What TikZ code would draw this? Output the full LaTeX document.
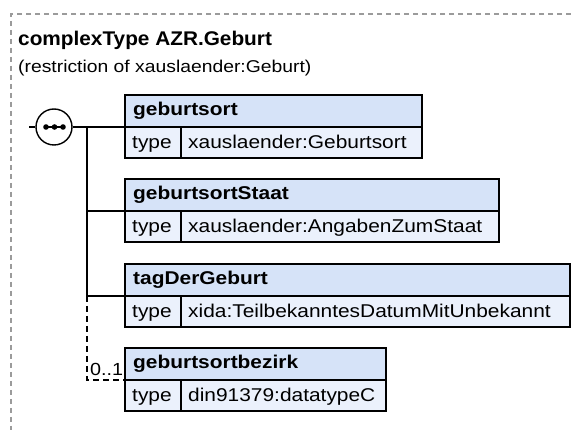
\documentclass[tikz,border=0pt]{standalone}
\usepackage{fontspec}
\setmainfont{Liberation Sans}[FakeStretch=1.13]
\newfontfamily\titlefont{Liberation Sans}[FakeStretch=1.05]
\definecolor{hdrc}{RGB}{214,227,248}
\definecolor{rowc}{RGB}{235,241,252}
\definecolor{dgray}{RGB}{155,155,155}
\tikzset{
 boxhdr/.style={draw=black, line width=1.4pt, fill=hdrc, anchor=north west, minimum height=32pt, inner sep=0pt, outer sep=0pt},
 boxrow/.style={draw=black, line width=1.4pt, fill=rowc, anchor=north west, minimum height=31pt, inner sep=0pt, outer sep=0pt},
 lbl/.style={anchor=base west, inner sep=0pt, font=\fontsize{18.5}{20}\selectfont},
 blbl/.style={anchor=base west, inner sep=0pt, font=\fontsize{18.5}{20}\selectfont\bfseries},
 conn/.style={line width=1.4pt},
 optconn/.style={line width=1.4pt, dash pattern=on 6pt off 4pt},
 seqnode/.style={circle, draw=black, line width=1.4pt, fill=white, minimum size=36pt, inner sep=0pt},
}
\begin{document}
\begin{tikzpicture}[x=1pt,y=-1pt]
\useasboundingbox (0,0) rectangle (571,430);
\fill[white] (0,0) rectangle (571,430);
% outer dashed frame
\draw[dgray, line width=1.2pt, dash pattern=on 5pt off 4pt] (571,14) -- (11,14) -- (11,430);
% titles
\node[anchor=base west, inner sep=0pt, font=\titlefont\fontsize{19.8}{21}\selectfont\bfseries] (title) at (18,45.5) {complexType AZR.Geburt};
\node[anchor=base west, inner sep=0pt, font=\fontsize{17.1}{18}\selectfont] (sub) at (18,73) {(restriction of xauslaender:Geburt)};
% box 1
\node[boxhdr, minimum width=297pt] (h1) at (125,95) {};
\node[boxrow, minimum width=56pt] (t1) at (125,127) {};
\node[boxrow, minimum width=241pt] (v1) at (181,127) {};
\node[blbl] (h1l) at (133,116) {geburtsort};
\node[lbl] (t1l) at (132,149) {type};
\node[lbl] (v1l) at (188,149) {xauslaender:Geburtsort};
% box 2
\node[boxhdr, minimum width=374pt] (h2) at (125,179) {};
\node[boxrow, minimum width=56pt] (t2) at (125,211) {};
\node[boxrow, minimum width=318pt] (v2) at (181,211) {};
\node[blbl] (h2l) at (133,200) {geburtsortStaat};
\node[lbl] (t2l) at (132,233) {type};
\node[lbl] (v2l) at (188,233) {xauslaender:AngabenZumStaat};
% box 3
\node[boxhdr, minimum width=445pt] (h3) at (125,264) {};
\node[boxrow, minimum width=56pt] (t3) at (125,296) {};
\node[boxrow, minimum width=389pt] (v3) at (181,296) {};
\node[blbl] (h3l) at (133,285) {tagDerGeburt};
\node[lbl] (t3l) at (132,318) {type};
\node[lbl] (v3l) at (188,318) {xida:TeilbekanntesDatumMitUnbekannt};
% box 4
\node[boxhdr, minimum width=261pt] (h4) at (125,348) {};
\node[boxrow, minimum width=56pt] (t4) at (125,380) {};
\node[boxrow, minimum width=205pt] (v4) at (181,380) {};
\node[blbl] (h4l) at (133,369) {geburtsortbezirk};
\node[lbl] (t4l) at (132,402) {type};
\node[lbl] (v4l) at (188,402) {din91379:datatypeC};
% sequence compositor
\coordinate (in) at (29,127);
\node[seqnode] (seq) at (54,127) {};
\draw[conn] (in) -- (seq.west);
\draw[conn] (45,127) -- (63,127);
\foreach \dx in {46,54.5,63} \fill (\dx,127) circle (2.8pt);
\coordinate (trunk) at (87,127);
\draw[conn] (seq.east) -- (h1.south west);
\draw[conn] (trunk) |- (h2.south west);
\draw[conn] (trunk) |- (h3.south west);
\draw[optconn] (h3.south west -| trunk) |- (h4.south west);
\node[anchor=base west, inner sep=0pt, font=\fontsize{17.5}{18}\selectfont] (card) at (90,376) {0..1};
\end{tikzpicture}
\end{document}
